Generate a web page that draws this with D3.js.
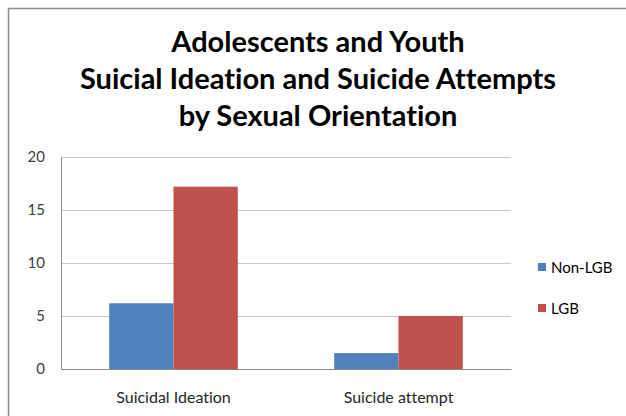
<!DOCTYPE html>
<html>
<head>
<meta charset="utf-8">
<script src="https://cdn.jsdelivr.net/npm/d3@7"></script>
<style>
  body { margin: 0; background: #fff; }
  svg { display: block; font-family: "Lato", "Open Sans", sans-serif; font-variant-ligatures: none; }
</style>
</head>
<body>
<div id="graphic"></div>
<script>
// data
const categories = ["Suicidal Ideation", "Suicide attempt"];
const seriesNames = ["Non-LGB", "LGB"];
const nonLGB = [6.2, 1.5];
const lgb = [17.2, 5.0];
const yTicks = [0, 5, 10, 15, 20];
const titleLines = ["Adolescents and Youth", "Suicial Ideation and Suicide Attempts", "by Sexual Orientation"];

const colors = ["#4F81BD", "#C0504D"];

const W = 626, H = 416;
const margin = { top: 157, left: 61, right: 115, bottom: 47 };
const width = W - margin.left - margin.right,
      height = H - margin.top - margin.bottom;

const svg = d3.select("#graphic").append("svg")
  .attr("width", W)
  .attr("height", H);

// outer chart border (cut off on right and bottom)
svg.append("rect")
  .attr("x", 8.5).attr("y", 8.5)
  .attr("width", W + 20).attr("height", H + 20)
  .attr("fill", "none")
  .attr("stroke", "#8c8c8c")
  .attr("stroke-width", 1.5);

// title
svg.append("g").selectAll("text")
  .data(titleLines)
  .enter().append("text")
  .attr("x", 318)
  .attr("y", (d, i) => 52 + i * 37)
  .attr("text-anchor", "middle")
  .attr("font-size", 29)
  .attr("font-weight", "bold")
  .attr("fill", "#000")
  .text(d => d);

const g = svg.append("g")
  .attr("transform", `translate(${margin.left},${margin.top})`);

const x0 = d3.scaleBand()
  .domain(categories)
  .range([0, width]);

// excel style: gap width 150% -> each bar is 1/(2+1.5) of the band
const barW = x0.bandwidth() / 3.5;
const x1 = d3.scaleBand()
  .domain(seriesNames)
  .range([(x0.bandwidth() - barW * 2) / 2, (x0.bandwidth() + barW * 2) / 2]);

const y = d3.scaleLinear()
  .domain([0, 20])
  .range([height, 0]);

// gridlines
g.append("g").selectAll("line")
  .data(yTicks.filter(d => d > 0))
  .enter().append("line")
  .attr("x1", 0).attr("x2", width)
  .attr("y1", d => Math.round(y(d)) + 0.5)
  .attr("y2", d => Math.round(y(d)) + 0.5)
  .attr("stroke", "#c8c8c8");

// y axis
const yAxis = d3.axisLeft(y).tickValues(yTicks).tickSize(0).tickPadding(16);
const gy = g.append("g").call(yAxis);
gy.select(".domain").attr("stroke", "#8c8c8c");
gy.selectAll("text").attr("font-size", 15).attr("fill", "#404040")
  .attr("font-family", "Lato, sans-serif");

// bars
const rows = categories.map((c, i) => ({ cat: c, vals: [nonLGB[i], lgb[i]] }));
const groups = g.selectAll(".grp")
  .data(rows)
  .enter().append("g")
  .attr("transform", d => `translate(${x0(d.cat)},0)`);

groups.selectAll("rect")
  .data(d => d.vals.map((v, i) => ({ key: seriesNames[i], v: v, i: i })))
  .enter().append("rect")
  .attr("x", d => x1(d.key))
  .attr("width", x1.bandwidth())
  .attr("y", d => y(d.v))
  .attr("height", d => y(0) - y(d.v))
  .attr("fill", d => colors[d.i]);

// x axis
const xAxis = d3.axisBottom(x0).tickSize(0).tickPadding(34);
const gx = g.append("g")
  .attr("transform", `translate(0,${height})`)
  .call(xAxis);
gx.select(".domain").attr("stroke", "#8c8c8c");
gx.selectAll("text").attr("font-size", 16).attr("fill", "#262626")
  .attr("dy", "0").attr("font-family", "Lato, sans-serif");

// legend
const legend = svg.append("g")
  .attr("transform", "translate(538,0)");
const li = legend.selectAll("g")
  .data(seriesNames)
  .enter().append("g")
  .attr("transform", (d, i) => `translate(0,${267 + i * 41})`);
li.append("rect")
  .attr("x", 0).attr("y", -4)
  .attr("width", 8).attr("height", 8)
  .attr("fill", (d, i) => colors[i]);
li.append("text")
  .attr("x", 13).attr("y", 5.5)
  .attr("font-size", 15)
  .attr("fill", "#000")
  .text(d => d);
</script>
</body>
</html>
